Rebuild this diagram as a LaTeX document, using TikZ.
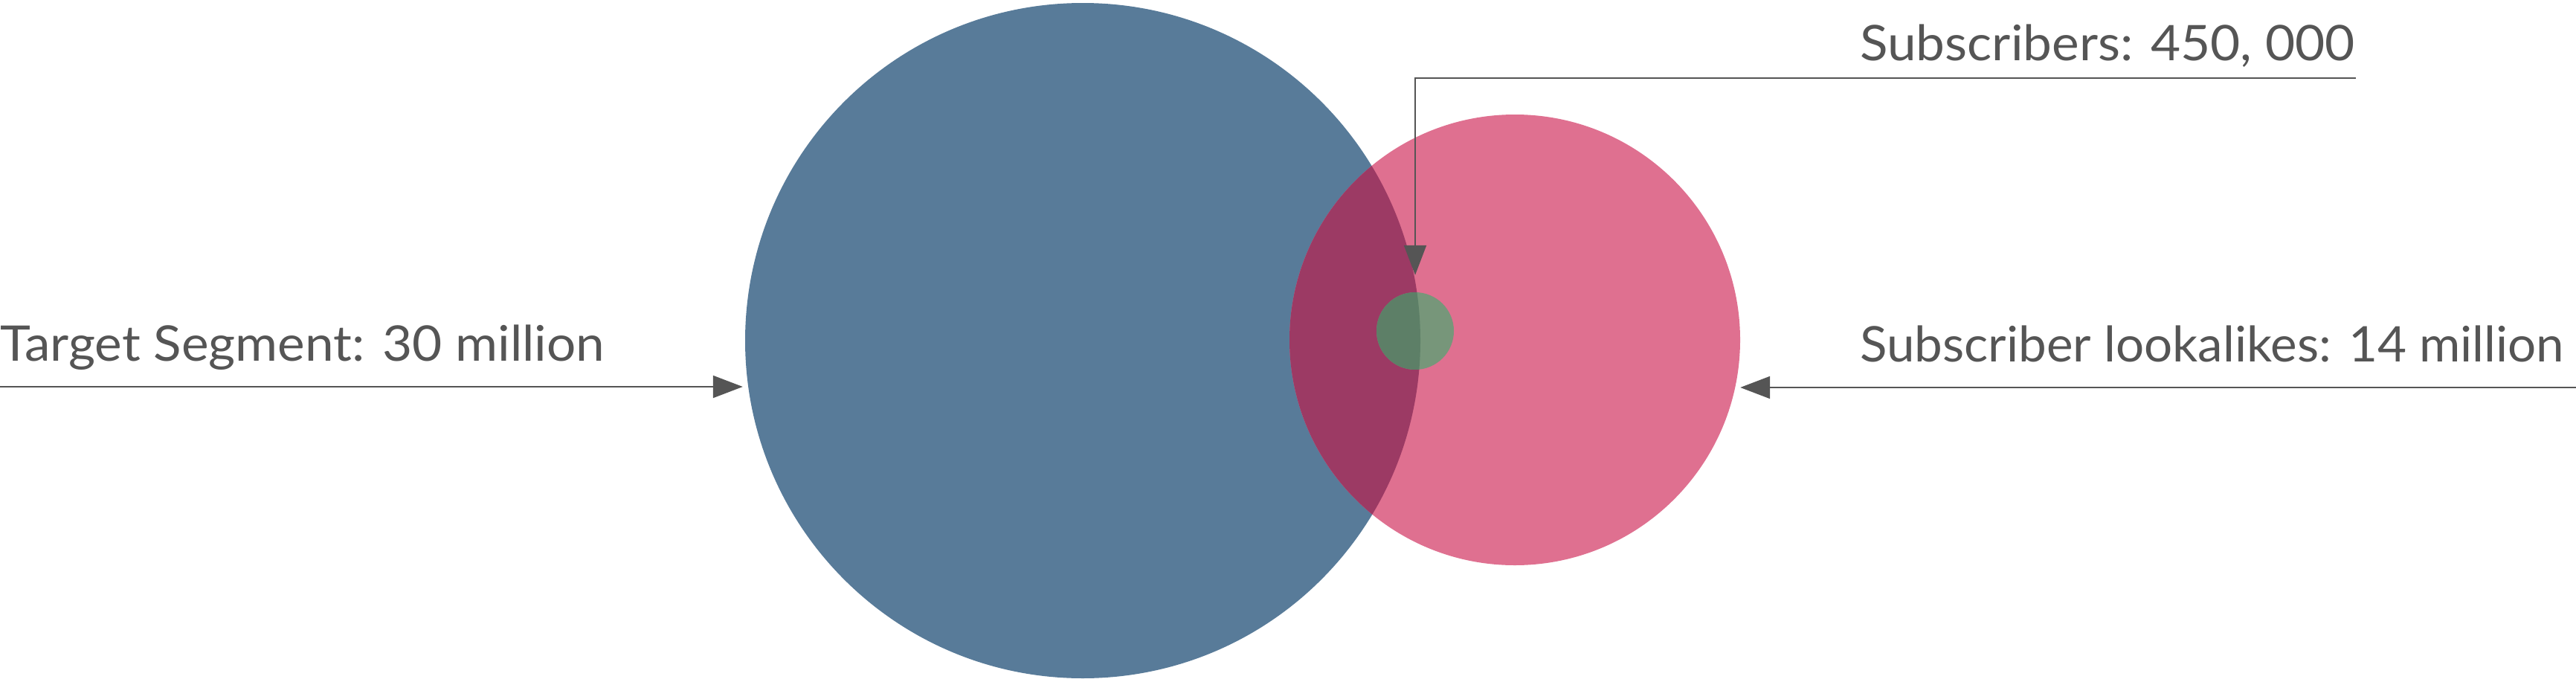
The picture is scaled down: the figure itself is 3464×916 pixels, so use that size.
\documentclass[tikz,border=0pt]{standalone}
\usepackage{fontspec}
\usepackage{graphicx}
\setmainfont{Lato}
\usetikzlibrary{arrows.meta}
\definecolor{segblue}{HTML}{587B99}
\definecolor{subpink}{HTML}{DF7090}
\definecolor{overlapc}{HTML}{9C3A64}
\definecolor{greenlight}{HTML}{77967A}
\definecolor{greendark}{HTML}{5D7F67}
\definecolor{linegray}{HTML}{555555}
\newcommand{\widetext}[2][1.05]{\scalebox{#1}[1]{#2}}
\begin{document}
\begin{tikzpicture}[x=1pt,y=-1pt,
  lbl/.style={font=\fontsize{66}{72}\selectfont, text=linegray, inner sep=0, anchor=base west},
  conn/.style={draw=linegray, line width=2pt, -{Triangle[length=40pt,width=30pt]}},
  disc/.style={circle, inner sep=0, draw=none}]
\useasboundingbox (0,0) rectangle (3464,916);
% circles
\node[disc, fill=segblue, minimum size=908pt] (target) at (1456,458) {};
\node[disc, fill=subpink, minimum size=606pt] (look) at (2037,457) {};
\begin{scope}
  \clip (1456,458) circle[radius=454];
  \fill[overlapc] (2037,457) circle[radius=303];
\end{scope}
\node[disc, fill=greenlight, minimum size=104pt] (subs) at (1903,445) {};
\begin{scope}
  \clip (1456,458) circle[radius=454];
  \fill[greendark] (1903,445) circle[radius=52];
\end{scope}
% labels
\node[lbl] (tlbl) at (0,485) {\widetext{Target Segment: 30 million}};
\node[lbl] (slbl) at (2501,81) {\widetext{Subscribers: 450, 000}};
\node[lbl] (llbl) at (2501,486) {\widetext[1.02]{Subscriber lookalikes: 14 million}};
% connectors
\coordinate (tstart) at (0,520);
\coordinate (lstart) at (3464,521);
\coordinate (sstart) at (3168,105);
\draw[conn, shorten >=3pt] (tstart) -- (target.west |- tstart);
\draw[conn] (lstart) -- (look.east |- lstart);
\draw[conn, shorten >=23pt] (sstart) -- (subs.north |- sstart) -- (subs.north);
\end{tikzpicture}
\end{document}
